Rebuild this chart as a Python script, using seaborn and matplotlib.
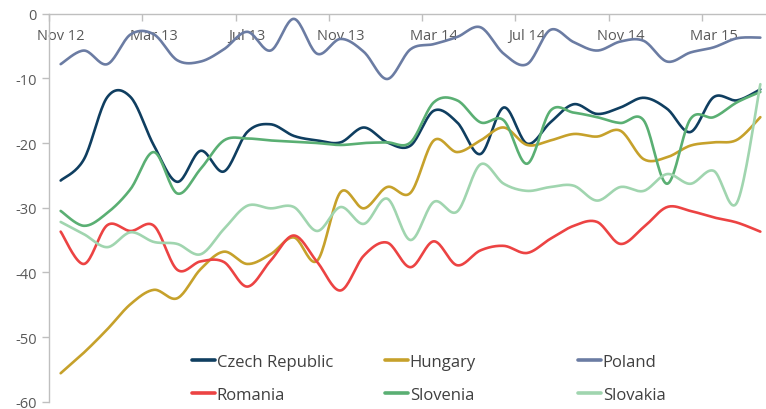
import numpy as np
import pandas as pd
import matplotlib
matplotlib.use("Agg")
import matplotlib.pyplot as plt
from matplotlib.lines import Line2D
import seaborn as sns

# ---------------- data ----------------
tick_labels = ["Nov 12", "Mar 13", "Jul 13", "Nov 13", "Mar 14", "Jul 14", "Nov 14", "Mar 15"]
n_months = 31  # Nov 12 .. May 15

czech = [-25.8, -22.5, -12.9, -12.9, -20.4, -26.0, -21.2, -24.4, -18.3, -17.1, -18.9,
         -19.6, -19.9, -17.6, -19.9, -20.4, -15.0, -16.8, -21.7, -14.5, -20.1, -16.8,
         -14.0, -15.5, -14.5, -13.0, -14.7, -18.3, -12.9, -13.4, -11.7]
hungary = [-55.6, -52.4, -48.8, -44.9, -42.7, -44.0, -39.5, -36.8, -38.7, -37.2, -34.6,
           -38.2, -27.6, -30.1, -26.8, -27.7, -19.6, -21.4, -19.6, -17.6, -20.3, -19.6,
           -18.6, -19.0, -18.1, -22.5, -22.2, -20.4, -19.9, -19.5, -16.0]
poland = [-7.8, -5.7, -7.8, -3.2, -3.2, -7.2, -7.4, -5.5, -2.8, -5.7, -0.8,
          -6.2, -3.9, -5.9, -10.1, -5.5, -4.7, -3.6, -2.1, -6.2, -7.8, -2.5,
          -4.4, -5.7, -4.3, -4.2, -7.4, -6.0, -5.2, -3.8, -3.7]
romania = [-33.7, -38.7, -32.7, -33.6, -32.8, -39.6, -38.3, -38.4, -42.2, -38.2, -34.3,
           -38.4, -42.8, -37.4, -35.4, -39.2, -35.2, -38.9, -36.6, -35.9, -37.0, -34.8,
           -32.8, -32.2, -35.6, -33.0, -29.9, -30.5, -31.5, -32.3, -33.7]
slovenia = [-30.5, -32.8, -30.8, -27.1, -21.4, -27.8, -24.0, -19.6, -19.3, -19.6, -19.8,
            -20.0, -20.3, -20.0, -19.9, -19.9, -13.7, -13.4, -16.8, -16.5, -23.2, -15.0,
            -15.3, -16.0, -16.9, -16.5, -26.3, -16.3, -16.0, -13.7, -12.1]
slovakia = [-32.2, -34.1, -36.1, -33.8, -35.3, -35.6, -37.2, -33.3, -29.7, -30.1, -29.9,
            -33.6, -29.9, -32.5, -28.6, -35.0, -29.1, -30.6, -23.3, -26.3, -27.4, -26.8,
            -26.6, -28.9, -26.8, -27.4, -24.8, -26.3, -24.3, -29.2, -10.9]

countries = ["Czech Republic", "Hungary", "Poland", "Romania", "Slovenia", "Slovakia"]
series = [czech, hungary, poland, romania, slovenia, slovakia]
colors = ["#0F3E60", "#C6A12B", "#6B7CA3", "#EC4343", "#5AAF73", "#A0D5AF"]


def smooth(xs, ys, steps=20):
    """Excel-style smoothed line (cubic Bezier through points)."""
    P = np.column_stack([xs, ys]).astype(float)
    n = len(P)
    out = []
    for i in range(n - 1):
        p_prev = P[i - 1] if i > 0 else P[i]
        p_next2 = P[i + 2] if i + 2 < n else P[i + 1]
        c1 = P[i] + (P[i + 1] - p_prev) / 6.0
        c2 = P[i + 1] - (p_next2 - P[i]) / 6.0
        t = np.linspace(0, 1, steps, endpoint=(i == n - 2))[:, None]
        b = ((1 - t) ** 3) * P[i] + 3 * ((1 - t) ** 2) * t * c1 + 3 * (1 - t) * t ** 2 * c2 + t ** 3 * P[i + 1]
        out.append(b)
    out = np.vstack(out)
    return out[:, 0], out[:, 1]


rows = []
for name, vals in zip(countries, series):
    sx, sy = smooth(np.arange(n_months), vals)
    rows.append(pd.DataFrame({"x": sx, "y": sy, "country": name}))
df = pd.concat(rows, ignore_index=True)

# ---------------- style ----------------
sns.set_theme(style="white")
plt.rcParams["font.family"] = ["Open Sans", "DejaVu Sans"]
plt.rcParams["axes.unicode_minus"] = False

W, H = 766, 410
fig = plt.figure(figsize=(W / 100, H / 100), dpi=100)
ax_left, ax_right, ax_top, ax_bottom = 49, 772, 14.7, 402.7
ax = fig.add_axes([ax_left / W, 1 - ax_bottom / H, (ax_right - ax_left) / W, (ax_bottom - ax_top) / H])

sns.lineplot(data=df, x="x", y="y", hue="country", hue_order=countries,
             palette=dict(zip(countries, colors)), sort=False, estimator=None,
             linewidth=1.9, legend=False, ax=ax)

ax.set_xlim(-0.5, n_months - 0.5)
ax.set_ylim(-60, 0)
ax.set_xlabel("")
ax.set_ylabel("")

# spines
for s in ["top", "right"]:
    ax.spines[s].set_visible(False)
ax.spines["left"].set_color("#BFBFBF")
ax.spines["bottom"].set_color("#BFBFBF")
ax.spines["bottom"].set_position(("data", 0))
ax.spines["left"].set_linewidth(1.0)
ax.spines["bottom"].set_linewidth(1.0)

# y ticks
yt = np.arange(-60, 1, 10)
ax.set_yticks(yt)
ax.set_yticklabels([str(int(v)) for v in yt])
ax.tick_params(axis="y", direction="out", length=5, width=1, color="#BFBFBF",
               labelsize=10.5, labelcolor="#595959", pad=4, left=True)

# x ticks: marks at category boundaries, labels at category centres
ax.set_xticks(np.arange(-0.5, n_months, 4))
ax.set_xticklabels([])
ax.set_xticks(np.arange(0, n_months, 4), minor=True)
ax.set_xticklabels(tick_labels, minor=True)
ax.tick_params(axis="x", which="major", direction="out", length=5, width=1,
               color="#BFBFBF", bottom=True)
ax.tick_params(axis="x", which="minor", length=0, labelsize=10.5,
               labelcolor="#595959", pad=10, bottom=True)

# legend: three columns placed like the original
col_x = [192, 385, 578]
col_entries = [(0, 3), (1, 4), (2, 5)]
for cx, (a, b) in zip(col_x, col_entries):
    handles = [Line2D([], [], color=colors[k], linewidth=2.6) for k in (a, b)]
    fig.legend(handles, [countries[a], countries[b]], loc="center left",
               bbox_to_anchor=(cx / W, 1 - 379.8 / H), frameon=False,
               borderpad=0, borderaxespad=0, handlelength=1.38, handletextpad=0.1,
               labelspacing=1.02, fontsize=12, labelcolor="#404040")

fig.savefig("out.png", dpi=100)
